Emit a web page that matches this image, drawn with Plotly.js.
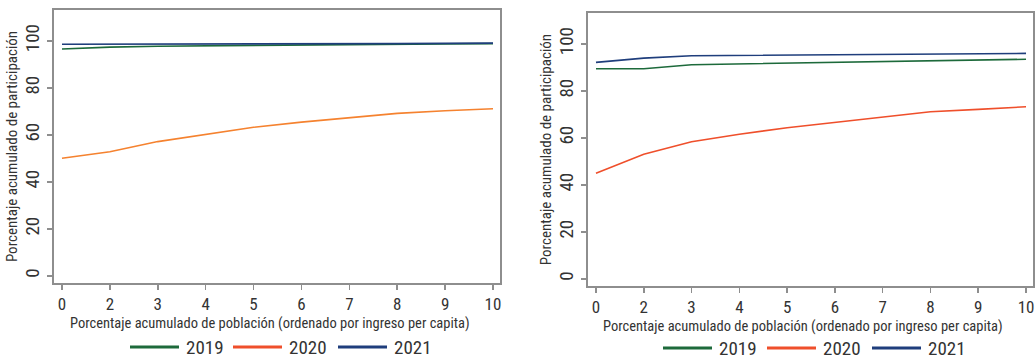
<!DOCTYPE html>
<html>
<head>
<meta charset="utf-8">
<script src="https://cdn.plot.ly/plotly-3.0.1.min.js"></script>
<style>html,body{margin:0;padding:0;background:#fff;}#chart{width:1036px;height:359px;}</style>
</head>
<body>
<div id="chart"></div>
<script>
// Tick labels / categories (x axis, evenly spaced)
var xLabels = ['0', '2', '3', '4', '5', '6', '7', '8', '9', '10'];
var seriesNames = ['2019', '2020', '2021'];
var xTitle = 'Porcentaje acumulado de población (ordenado por ingreso per capita)';
var yTitle = 'Porcentaje acumulado de participación';

// Left panel values
var left2019 = [96.6, 97.4, 97.8, 98.0, 98.3, 98.5, 98.6, 98.7, 98.8, 98.9];
var left2020 = [50.1, 52.9, 57.2, 60.3, 63.3, 65.5, 67.5, 69.2, 70.3, 71.2];
var left2021 = [98.6, 98.6, 98.7, 98.7, 98.7, 98.8, 98.8, 98.9, 99.0, 99.1];

// Right panel values
var right2019 = [89.5, 89.5, 91.2, 91.5, 91.8, 92.1, 92.4, 92.8, 93.1, 93.5];
var right2020 = [45.0, 53.1, 58.4, 61.6, 64.4, 66.7, 68.7, 71.2, 72.2, 73.3];
var right2021 = [92.2, 94.0, 95.0, 95.1, 95.2, 95.4, 95.5, 95.6, 95.8, 96.0];

var FONT = '"Roboto Condensed", "DejaVu Sans Condensed", "Liberation Sans", Arial, sans-serif';
var green = '#1d6a3b', orange = '#f5822f', red = '#ef4f2b', navy = '#1f3e7c';
var keyColors = [green, red, navy];
var frame = '#8e8e8e', txt = '#333333';
var W = 1036, H = 359;

function line(x, y, color, xa, ya, name) {
  return {type: 'scatter', mode: 'lines', x: x, y: y, xaxis: xa, yaxis: ya,
    name: name, showlegend: false,
    line: {color: color, width: 1.6}, hoverinfo: 'skip'};
}

var traces = [
  line(xLabels, left2019, green, 'x', 'y', seriesNames[0]),
  line(xLabels, left2020, orange, 'x', 'y', seriesNames[1]),
  line(xLabels, left2021, navy, 'x', 'y', seriesNames[2]),
  line(xLabels, right2019, green, 'x2', 'y2', seriesNames[0]),
  line(xLabels, right2020, red, 'x2', 'y2', seriesNames[1]),
  line(xLabels, right2021, navy, 'x2', 'y2', seriesNames[2])
];

function xaxis(domain, anchor) {
  return {domain: domain, anchor: anchor, type: 'category', range: [-0.167, 9.146],
    automargin: false,
    showline: true, linecolor: frame, linewidth: 2, mirror: true,
    showgrid: false, zeroline: false, ticks: 'outside', ticklen: 5, tickwidth: 1.5, tickcolor: frame,
    tickfont: {family: FONT, size: 17, color: txt}};
}
function yaxis(domain, anchor) {
  return {domain: domain, anchor: anchor, range: [-2.98, 113.2],
    automargin: false,
    tickvals: [0, 20, 40, 60, 80, 100],
    showline: true, linecolor: frame, linewidth: 2, mirror: true,
    showgrid: false, zeroline: false, ticks: 'outside', ticklen: 5, tickwidth: 1.5, tickcolor: frame,
    tickangle: -90, tickfont: {family: FONT, size: 19, color: txt},
    title: {text: yTitle, font: {family: FONT, size: 15, color: txt}, standoff: 0}};
}

var shapes = [], annotations = [];
// x-axis titles (placed as text under each panel)
annotations.push({xref: 'paper', yref: 'paper', x: 269.5 / W, y: (H - 323.5) / H,
  xanchor: 'center', yanchor: 'middle', showarrow: false, text: xTitle,
  font: {family: FONT, size: 14.5, color: txt}});
annotations.push({xref: 'paper', yref: 'paper', x: 803 / W, y: (H - 326) / H,
  xanchor: 'center', yanchor: 'middle', showarrow: false, text: xTitle,
  font: {family: FONT, size: 14.5, color: txt}});

// Legend keys (one legend under each panel), built from seriesNames / keyColors
function legendRow(lineStarts, yPix) {
  seriesNames.forEach(function(nm, i) {
    var x0 = lineStarts[i];
    shapes.push({type: 'line', xref: 'paper', yref: 'paper',
      x0: x0 / W, x1: (x0 + 49) / W, y0: (H - yPix) / H, y1: (H - yPix) / H,
      line: {color: keyColors[i], width: 3}});
    annotations.push({xref: 'paper', yref: 'paper', x: (x0 + 54) / W, y: (H - yPix) / H,
      xanchor: 'left', yanchor: 'middle', showarrow: false, text: nm,
      font: {family: FONT, size: 19, color: txt}});
  });
}
legendRow([130, 233, 338], 347);
legendRow([663, 767, 872], 348);

var layout = {
  width: W, height: H,
  margin: {l: 0, r: 0, t: 0, b: 0},
  paper_bgcolor: '#ffffff', plot_bgcolor: '#ffffff',
  font: {family: FONT, color: txt},
  xaxis: xaxis([54/W, 500/W], 'y'),
  yaxis: yaxis([(H-283)/H, (H-10)/H], 'x'),
  xaxis2: xaxis([588/W, 1033/W], 'y2'),
  yaxis2: yaxis([(H-286)/H, (H-13)/H], 'x2'),
  shapes: shapes,
  annotations: annotations,
  showlegend: false
};

Plotly.newPlot('chart', traces, layout, {staticPlot: true, displayModeBar: false});
</script>
</body>
</html>
